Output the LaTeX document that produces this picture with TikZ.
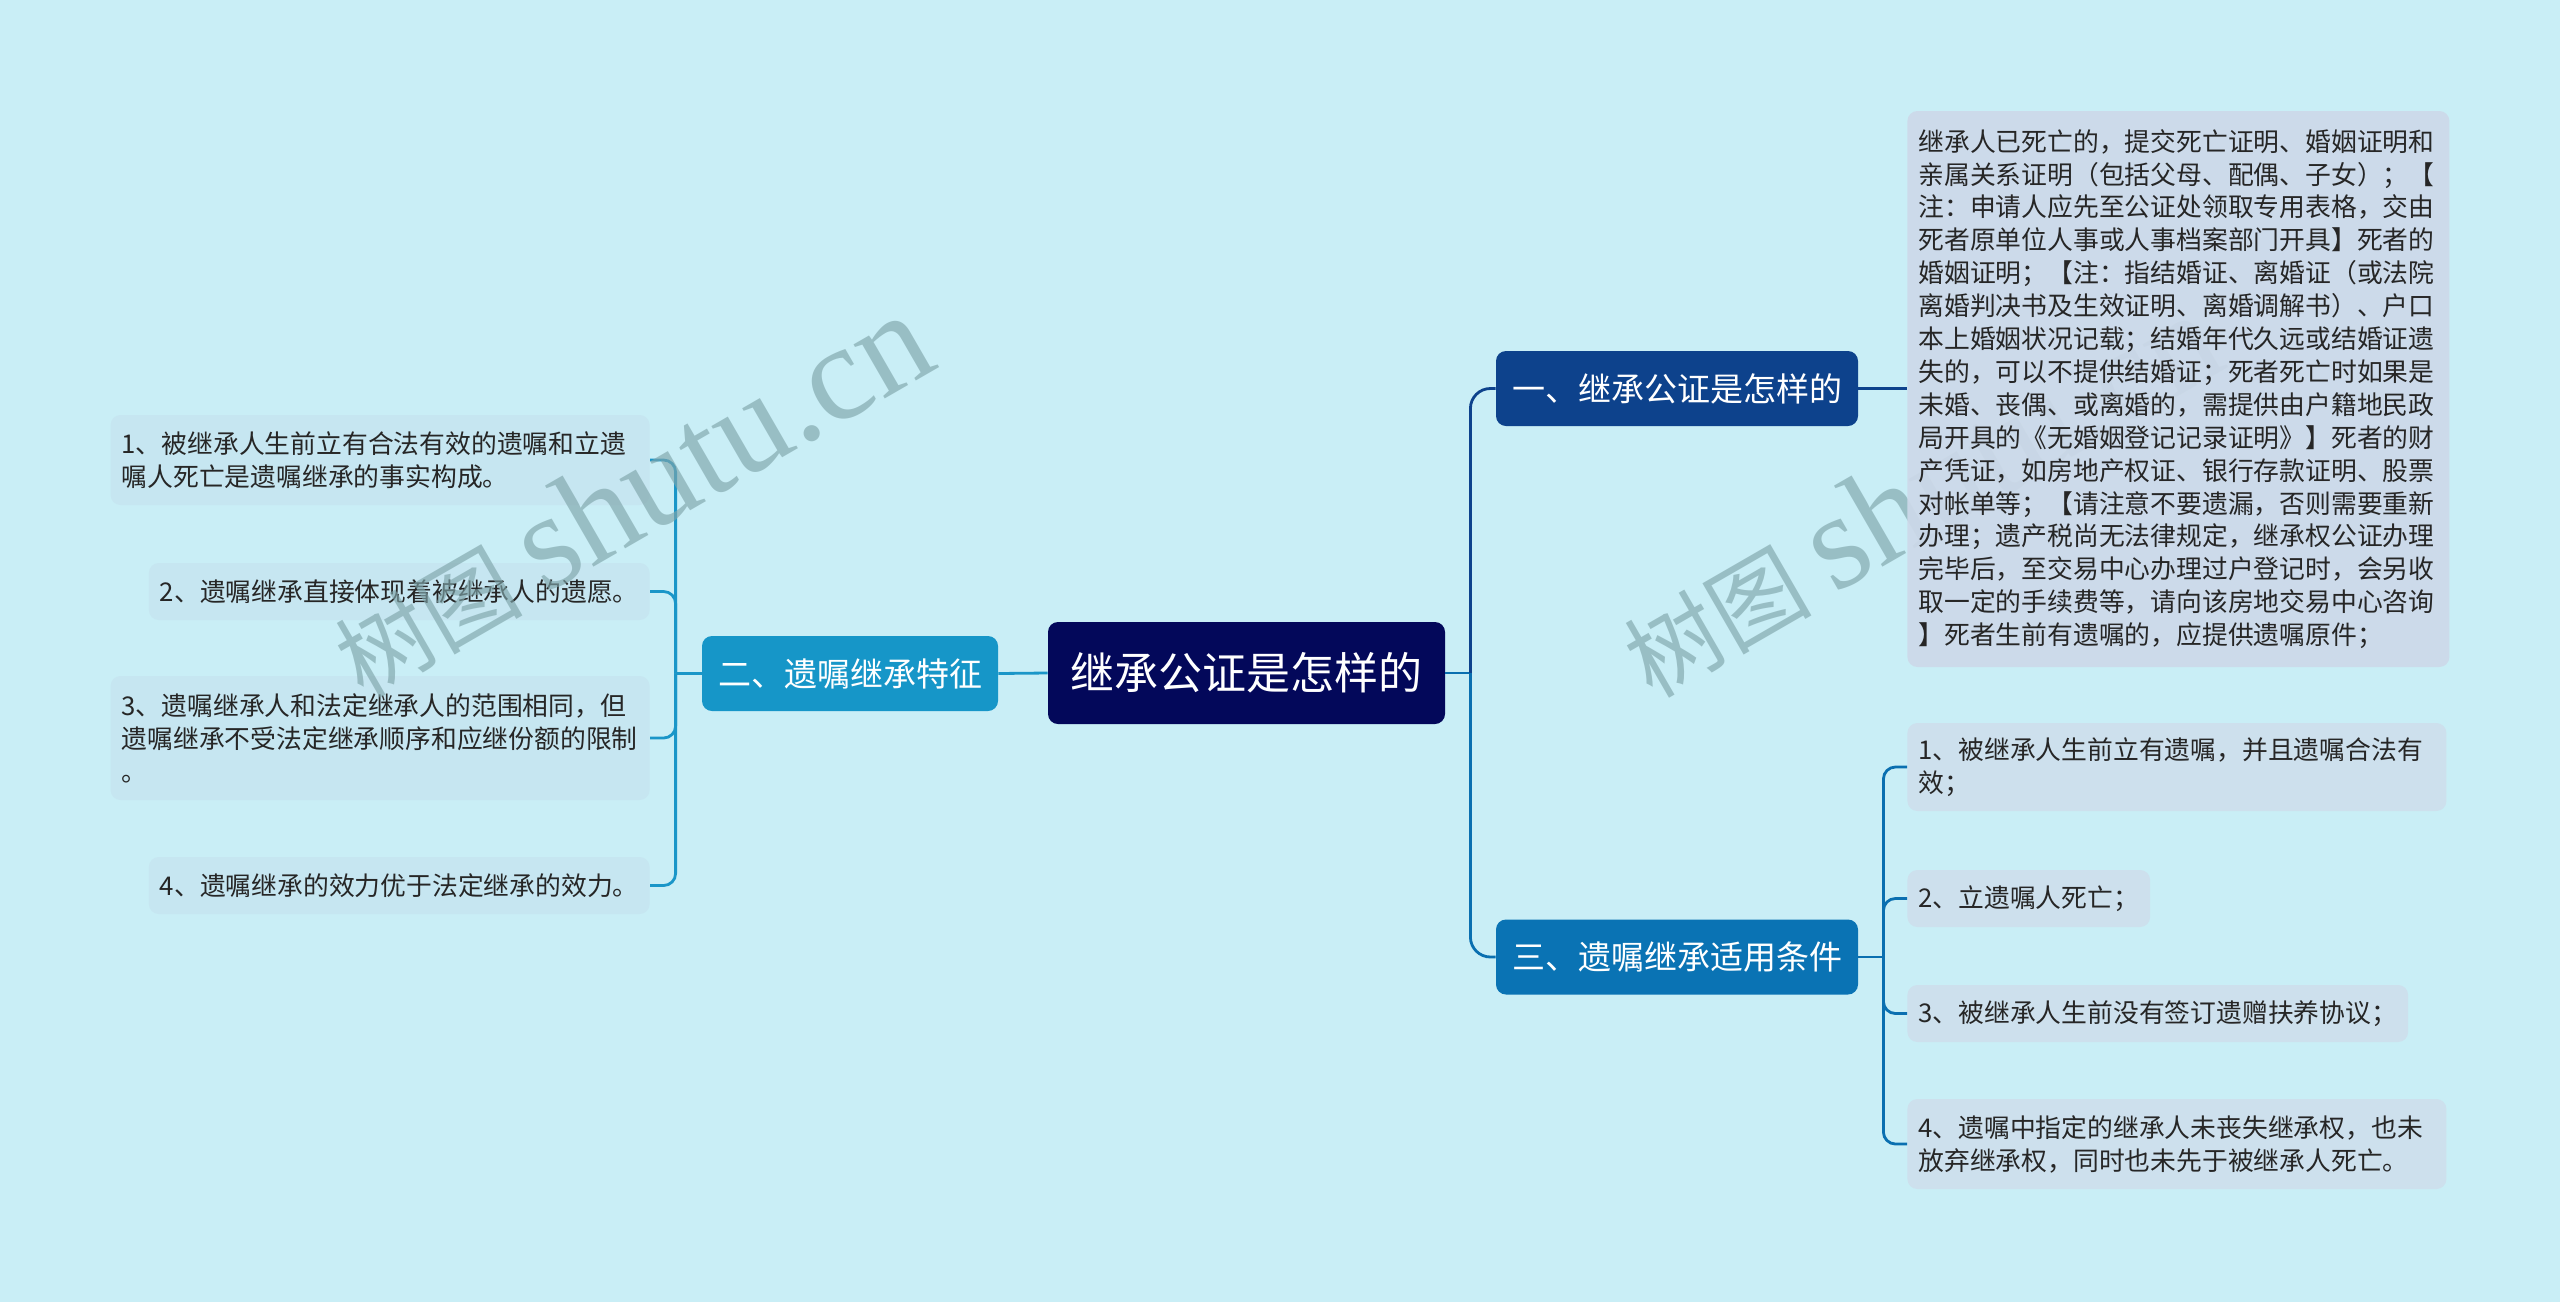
\documentclass[tikz,border=0pt]{standalone}
\usepackage{fontspec}
\setmainfont{Noto Sans CJK SC}
\newfontfamily\wmlat{Liberation Serif}
\newfontfamily\wmcjk{Noto Sans CJK SC}
\definecolor{bg}{HTML}{C9EEF6}
\definecolor{rootc}{HTML}{03085A}
\definecolor{onec}{HTML}{0D428C}
\definecolor{twoc}{HTML}{1696C8}
\definecolor{threec}{HTML}{0A73B4}
\definecolor{leafLc}{HTML}{C6E6F1}
\definecolor{leafRc}{HTML}{CDE0ED}
\definecolor{bigc}{HTML}{CDD9E9}
\definecolor{cL}{HTML}{1A96C8}
\definecolor{cA}{HTML}{0D428C}
\definecolor{cB}{HTML}{0A6FB0}
\definecolor{wmc}{HTML}{7FA5AA}
\begin{document}
\begin{tikzpicture}[x=1pt,y=-1pt,
  leaf/.style={rounded corners=5pt, font=\fontsize{12.9pt}{16.45pt}\selectfont, text=black!85, align=left, inner ysep=0pt, inner xsep=5.5pt},
  leafL/.style={leaf, fill=leafLc},
  leafR/.style={leaf, fill=leafRc},
  branch/.style={rounded corners=5pt, text=white, font=\fontsize{16.5pt}{20pt}\selectfont, inner sep=0pt, minimum height=37.5pt, minimum width=181pt},
  conn/.style={line width=1.4pt},
  wmark/.style={text=wmc, text opacity=0.65, inner sep=0pt, rotate=30, anchor=base west}
]
\fill[bg] (0,0) rectangle (1280,651);
\useasboundingbox (0,0) rectangle (1280,651);

% watermark behind the big box
\node[wmark] (wm2) at (826,350) {{\wmcjk\fontsize{47pt}{47pt}\selectfont 树图}\hspace{11pt}{\wmlat\fontsize{68pt}{68pt}\selectfont shutu.cn}};

% root and branches
\node[fill=rootc, rounded corners=5pt, text=white, font=\fontsize{22pt}{26pt}\selectfont, minimum width=198.5pt, minimum height=51pt, inner sep=0pt] (root) at (623.25,336.5) {继承公证是怎样的};
\node[branch, fill=onec] (one) at (838.5,194.25) {一、继承公证是怎样的};
\node[branch, fill=twoc, minimum width=148pt] (two) at (425,336.75) {二、遗嘱继承特征};
\node[branch, fill=threec] (three) at (838.5,478.5) {三、遗嘱继承适用条件};

% big text box
\node[leaf, fill=bigc, fill opacity=0.92, text opacity=1, anchor=west, text width=260pt, minimum height=278pt] (big) at (953.5,194.5) {继承人已死亡的，提交死亡证明、婚姻证明和\\亲属关系证明（包括父母、配偶、子女）；【\\注：申请人应先至公证处领取专用表格，交由\\死者原单位人事或人事档案部门开具】死者的\\婚姻证明；【注：指结婚证、离婚证（或法院\\离婚判决书及生效证明、离婚调解书）、户口\\本上婚姻状况记载；结婚年代久远或结婚证遗\\失的，可以不提供结婚证；死者死亡时如果是\\未婚、丧偶、或离婚的，需提供由户籍地民政\\局开具的《无婚姻登记记录证明》】死者的财\\产凭证，如房地产权证、银行存款证明、股票\\对帐单等；【请注意不要遗漏，否则需要重新\\办理；遗产税尚无法律规定，继承权公证办理\\完毕后，至交易中心办理过户登记时，会另收\\取一定的手续费等，请向该房地交易中心咨询\\】死者生前有遗嘱的，应提供遗嘱原件；};

% left leaves
\node[leafL, anchor=east, text width=258.5pt, minimum height=45pt] (L1) at (325,230) {1、被继承人生前立有合法有效的遗嘱和立遗\\嘱人死亡是遗嘱继承的事实构成。};
\node[leafL, anchor=east, minimum height=28.5pt] (L2) at (325,295.75) {2、遗嘱继承直接体现着被继承人的遗愿。};
\node[leafL, anchor=east, text width=258.5pt, minimum height=62pt] (L3) at (325,369) {3、遗嘱继承人和法定继承人的范围相同，但\\遗嘱继承不受法定继承顺序和应继份额的限制\\。};
\node[leafL, anchor=east, minimum height=28.5pt] (L4) at (325,442.75) {4、遗嘱继承的效力优于法定继承的效力。};

% right leaves
\node[leafR, anchor=west, text width=258.5pt, minimum height=44pt] (R1) at (953.5,383.5) {1、被继承人生前立有遗嘱，并且遗嘱合法有\\效；};
\node[leafR, anchor=west, minimum height=28.5pt] (R2) at (953.5,449.25) {2、立遗嘱人死亡；};
\node[leafR, anchor=west, minimum height=28.5pt] (R3) at (953.5,506.75) {3、被继承人生前没有签订遗赠扶养协议；};
\node[leafR, anchor=west, text width=258.5pt, minimum height=45pt] (R4) at (953.5,572) {4、遗嘱中指定的继承人未丧失继承权，也未\\放弃继承权，同时也未先于被继承人死亡。};

% connectors left
\draw[conn, cL] (root.west) -- (two.east);
\path (two.west) ++(-13,0) coordinate (lj);
\draw[conn, cL] (two.west) -- (lj);
\foreach \n in {L1,L2,L3,L4}
  \draw[conn, cL, rounded corners=6pt] (lj) |- (\n.east);

% connectors right
\path (root.east) ++(12.5,0) coordinate (rj);
\draw[conn, cB] (root.east) -- (rj);
\draw[conn, cA, rounded corners=10pt] (rj) |- (one.west);
\draw[conn, cB, rounded corners=10pt] (rj) |- (three.west);
\draw[conn, cA] (one.east) -- (big.west |- one.east);
\path (three.east) ++(12.5,0) coordinate (tj);
\draw[conn, cB] (three.east) -- (tj);
\foreach \n in {R1,R2,R3,R4}
  \draw[conn, cB, rounded corners=6pt] (tj) |- (\n.west);

% watermark on top (left)
\node[wmark] (wm1) at (181.5,350) {{\wmcjk\fontsize{47pt}{47pt}\selectfont 树图}\hspace{11pt}{\wmlat\fontsize{68pt}{68pt}\selectfont shutu.cn}};
\end{tikzpicture}
\end{document}
